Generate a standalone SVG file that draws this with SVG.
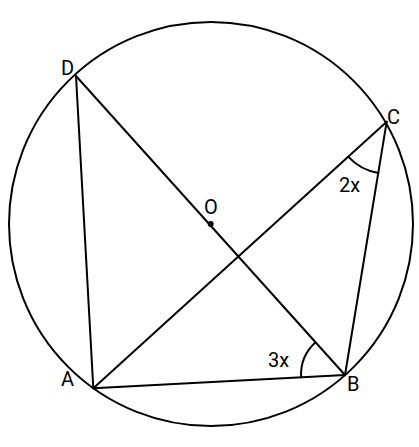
<svg xmlns="http://www.w3.org/2000/svg" width="419" height="447" viewBox="0 0 419 447">
<style>
.s{fill:none;stroke:#000;stroke-width:2;stroke-linecap:round}
text{font-family:Roboto,"Liberation Sans",sans-serif;font-size:20px;fill:#000}
</style>
<rect width="419" height="447" fill="#fff"/>
<g id="circle"><circle class="s" cx="211" cy="224" r="202"/></g>
<g id="connectors">
<line class="s" x1="76" y1="76" x2="93.3" y2="388.3"/>
<line class="s" x1="76" y1="76" x2="345" y2="375"/>
<line class="s" x1="93.3" y1="388.3" x2="386.7" y2="121.7"/>
<line class="s" x1="386.7" y1="121.7" x2="345" y2="375"/>
<line class="s" x1="93.3" y1="388.3" x2="345" y2="375"/>
<path class="s" d="M348.2,156.7 A52,52 0 0 0 378.3,173"/>
<path class="s" d="M315.6,342.3 A44,44 0 0 0 301.1,377.3"/>
</g>
<g id="O"><circle cx="210.7" cy="224" r="3" fill="#000"/><text x="204" y="214">O</text></g>
<g id="D"><text x="61" y="75">D</text></g>
<g id="C"><text x="387" y="124">C</text></g>
<g id="A"><text x="61" y="386">A</text></g>
<g id="B"><text x="347" y="391">B</text></g>
<g id="angleC"><text x="339" y="192">2x</text></g>
<g id="angleB"><text x="268" y="367">3x</text></g>
</svg>
